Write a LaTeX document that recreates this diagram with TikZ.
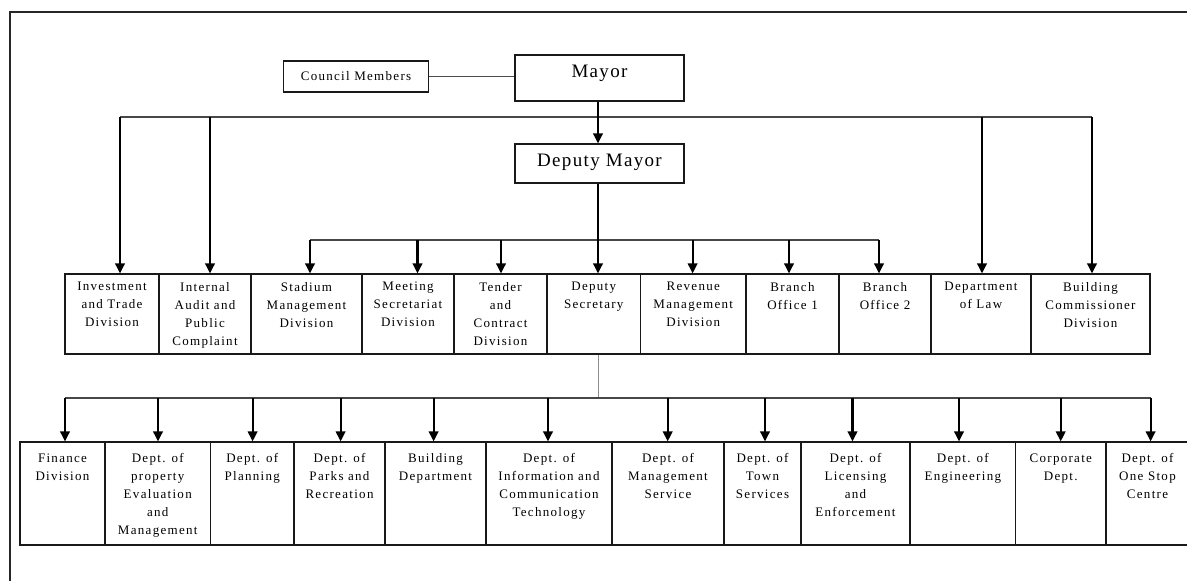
\documentclass[tikz,border=0pt]{standalone}
\usepackage{fontspec}
\setmainfont{Liberation Serif}
\newfontfamily\orgfont[LetterSpace=10]{Liberation Serif}
\newfontfamily\headfont[LetterSpace=7]{Liberation Serif}
\usetikzlibrary{arrows.meta}

\begin{document}
\begin{tikzpicture}[x=1pt,y=-1pt,
  frame/.style={draw=black!85, line width=2pt},
  box/.style 2 args={draw=black!90, line width=1.2pt, inner sep=0pt,
    minimum width=#1, minimum height=#2},
  rowtxt/.style={anchor=north, align=center, inner sep=0pt,
    font=\orgfont\fontsize{13}{18}\selectfont},
  headtxt/.style={anchor=north, inner sep=0pt, yshift=-10pt,
    font=\headfont\fontsize{19}{22}\selectfont},
  upper/.style={label={[rowtxt, yshift=-8.5pt]north:#1}},
  lower/.style={label={[rowtxt, yshift=-12pt]north:#1}},
  arr/.style={draw=black, line width=2.2pt, -{Triangle[length=10pt,width=9.5pt]}},
  bar/.style={draw=black!72, line width=1.7pt},
  thinline/.style={draw=black!70, line width=1pt},
  feed/.style={draw=black!45, line width=1pt}]

\useasboundingbox (0,0) rectangle (1187,581);

% page frame
\draw[frame] (10.3,600) -- (10.3,12) -- (1200,12);

% top of the hierarchy
\node[box={169pt}{46pt}, label={[headtxt]north:Mayor}] (mayor) at (599.5,78) {};
\node[box={169pt}{39pt}, label={[headtxt]north:Deputy Mayor}] (dmayor) at (599.5,163.5) {};
\node[box={145pt}{31pt}, font=\orgfont\fontsize{13}{16}\selectfont] (council) at (356,76.5) {Council Members};

% first row of divisions
\node[box={94pt}{80pt},   upper={Investment\\and Trade\\Division}] (b1) at (112,314) {};
\node[box={92pt}{80pt},   upper={Internal\\Audit and\\Public\\Complaint}] (b2) at (205,314) {};
\node[box={111pt}{80pt},  upper={Stadium\\Management\\Division}] (b3) at (306.5,314) {};
\node[box={92pt}{80pt},   upper={Meeting\\Secretariat\\Division}] (b4) at (408,314) {};
\node[box={93pt}{80pt},   upper={Tender\\and\\Contract\\Division}] (b5) at (500.5,314) {};
\node[box={93.5pt}{80pt}, upper={Deputy\\Secretary}] (b6) at (593.75,314) {};
\node[box={105.5pt}{80pt},upper={Revenue\\Management\\Division}] (b7) at (693.25,314) {};
\node[box={93pt}{80pt},   upper={Branch\\Office 1}] (b8) at (792.5,314) {};
\node[box={92pt}{80pt},   upper={Branch\\Office 2}] (b9) at (885,314) {};
\node[box={100pt}{80pt},  upper={Department\\of Law}] (b10) at (981,314) {};
\node[box={119pt}{80pt},  upper={Building\\Commissioner\\Division}] (b11) at (1090.5,314) {};

% second row of departments
\node[box={85pt}{103pt},   lower={Finance\\Division}] (c1) at (62.5,493.5) {};
\node[box={105.5pt}{103pt},lower={Dept. of\\property\\Evaluation\\and\\Management}] (c2) at (157.75,493.5) {};
\node[box={83.5pt}{103pt}, lower={Dept. of\\Planning}] (c3) at (252.25,493.5) {};
\node[box={91pt}{103pt},   lower={Dept. of\\Parks and\\Recreation}] (c4) at (339.5,493.5) {};
\node[box={101pt}{103pt},  lower={Building\\Department}] (c5) at (435.5,493.5) {};
\node[box={126pt}{103pt},  lower={Dept. of\\Information and\\Communication\\Technology}] (c6) at (549,493.5) {};
\node[box={112pt}{103pt},  lower={Dept. of\\Management\\Service}] (c7) at (668,493.5) {};
\node[box={77pt}{103pt},   lower={Dept. of\\Town\\Services}] (c8) at (762.5,493.5) {};
\node[box={109pt}{103pt},  lower={Dept. of\\Licensing\\and\\Enforcement}] (c9) at (855.5,493.5) {};
\node[box={105.6pt}{103pt},lower={Dept. of\\Engineering}] (c10) at (962.8,493.5) {};
\node[box={90.4pt}{103pt}, lower={Corporate\\Dept.}] (c11) at (1060.8,493.5) {};
\node[box={83pt}{103pt},   lower={Dept. of\\One Stop\\Centre}] (c12) at (1147.5,493.5) {};

% junction points of the bars
\coordinate (axis) at (598,0);
\coordinate (barC) at (598,398);

% council members beside the mayor
\draw[thinline] (council.east) -- (council.east -| mayor.west);

% mayor level
\draw[bar] (120,117) -- (1092,117);
\draw[arr] (axis |- mayor.south) -- (axis |- dmayor.north);
\foreach \x/\n in {120/b1, 210/b2, 982/b10, 1092/b11}
  \draw[arr] (\x,117) -- (\x,0 |- \n.north);

% deputy mayor level
\draw[bar] (310,240) -- (879,240);
\draw[arr] (axis |- dmayor.south) -- (axis |- b6.north);
\foreach \x/\n in {310/b3, 417.5/b4, 501/b5, 692.6/b7, 789/b8, 879/b9}
  \draw[arr] (\x,240) -- (\x,0 |- \n.north);

% deputy secretary level
\draw[feed] (axis |- b6.south) -- (barC);
\draw[bar] (65,398) -- (1150.6,398);
\foreach \x/\n in {65/c1, 158/c2, 252.6/c3, 340.6/c4, 433.6/c5, 548/c6,
                   667.7/c7, 765/c8, 852.5/c9, 959/c10, 1060.7/c11, 1150.6/c12}
  \draw[arr] (\x,398) -- (\x,0 |- \n.north);

\end{tikzpicture}
\end{document}
